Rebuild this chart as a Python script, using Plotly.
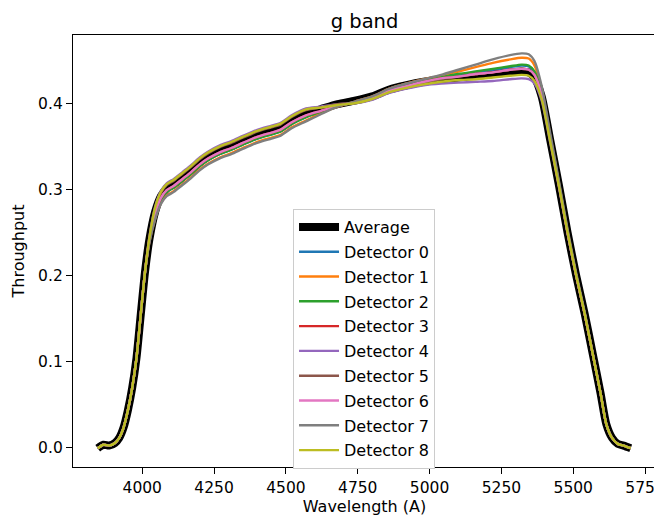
import plotly.graph_objects as go

# wavelength grid (Angstrom)
wavelength = [3845, 3865, 3885, 3905, 3920, 3935, 3950, 3965, 3980, 3995, 4010, 4025,
              4045, 4065, 4085, 4110, 4140, 4170, 4200, 4230, 4270, 4310, 4350, 4400,
              4450, 4480, 4520, 4570, 4620, 4680, 4740, 4800, 4860, 4920, 4980, 5040,
              5100, 5160, 5220, 5280, 5320, 5345, 5365, 5390, 5420, 5450, 5480, 5510,
              5540, 5570, 5595, 5615, 5635, 5655, 5675, 5700]

average = [-0.001, 0.003, 0.002, 0.005, 0.011, 0.023, 0.043, 0.069, 0.104, 0.155, 0.205, 0.242,
           0.274, 0.292, 0.301, 0.306, 0.314, 0.322, 0.331, 0.338, 0.345, 0.350, 0.356, 0.363,
           0.368, 0.371, 0.380, 0.388, 0.393, 0.399, 0.403, 0.408, 0.416, 0.421, 0.425, 0.428,
           0.430, 0.432, 0.434, 0.436, 0.437, 0.436, 0.430, 0.408, 0.357, 0.305, 0.250, 0.200,
           0.155, 0.105, 0.063, 0.027, 0.011, 0.004, 0.002, -0.001]

det0 = [-0.001, 0.003, 0.002, 0.005, 0.011, 0.023, 0.043, 0.069, 0.104, 0.155, 0.205, 0.241,
        0.270, 0.288, 0.297, 0.302, 0.310, 0.318, 0.327, 0.334, 0.341, 0.346, 0.352, 0.359,
        0.364, 0.367, 0.376, 0.384, 0.390, 0.397, 0.401, 0.407, 0.416, 0.422, 0.426, 0.430,
        0.433, 0.436, 0.439, 0.442, 0.444, 0.443, 0.436, 0.412, 0.359, 0.306, 0.250, 0.200,
        0.155, 0.105, 0.063, 0.027, 0.011, 0.004, 0.002, -0.001]

det1 = [-0.001, 0.003, 0.002, 0.005, 0.011, 0.023, 0.043, 0.069, 0.104, 0.155, 0.205, 0.239,
        0.266, 0.284, 0.293, 0.298, 0.306, 0.314, 0.323, 0.330, 0.337, 0.342, 0.348, 0.355,
        0.360, 0.363, 0.372, 0.380, 0.388, 0.396, 0.402, 0.408, 0.417, 0.423, 0.428, 0.432,
        0.437, 0.442, 0.447, 0.451, 0.453, 0.452, 0.444, 0.417, 0.362, 0.308, 0.252, 0.201,
        0.155, 0.105, 0.063, 0.027, 0.011, 0.004, 0.002, -0.001]

det2 = [-0.001, 0.003, 0.002, 0.005, 0.011, 0.023, 0.043, 0.069, 0.104, 0.155, 0.205, 0.240,
        0.270, 0.288, 0.297, 0.302, 0.310, 0.318, 0.327, 0.334, 0.341, 0.346, 0.352, 0.359,
        0.364, 0.367, 0.376, 0.384, 0.390, 0.397, 0.401, 0.407, 0.416, 0.422, 0.426, 0.430,
        0.434, 0.437, 0.440, 0.443, 0.445, 0.444, 0.437, 0.413, 0.360, 0.307, 0.251, 0.200,
        0.155, 0.105, 0.063, 0.027, 0.011, 0.004, 0.002, -0.001]

det3 = [-0.001, 0.003, 0.002, 0.005, 0.011, 0.023, 0.043, 0.069, 0.104, 0.155, 0.205, 0.241,
        0.272, 0.290, 0.299, 0.304, 0.312, 0.320, 0.329, 0.336, 0.343, 0.348, 0.354, 0.361,
        0.366, 0.369, 0.378, 0.386, 0.391, 0.397, 0.401, 0.406, 0.415, 0.420, 0.425, 0.429,
        0.431, 0.434, 0.436, 0.439, 0.440, 0.439, 0.433, 0.410, 0.358, 0.305, 0.250, 0.200,
        0.155, 0.105, 0.063, 0.027, 0.011, 0.004, 0.002, -0.001]

det4 = [-0.001, 0.003, 0.002, 0.005, 0.011, 0.023, 0.043, 0.069, 0.104, 0.155, 0.205, 0.245,
        0.280, 0.298, 0.307, 0.312, 0.320, 0.328, 0.337, 0.344, 0.351, 0.356, 0.362, 0.369,
        0.374, 0.377, 0.386, 0.394, 0.396, 0.399, 0.400, 0.404, 0.412, 0.417, 0.421, 0.423,
        0.424, 0.425, 0.426, 0.428, 0.429, 0.428, 0.423, 0.403, 0.354, 0.303, 0.249, 0.200,
        0.155, 0.105, 0.063, 0.027, 0.011, 0.004, 0.002, -0.001]

det5 = [-0.001, 0.003, 0.002, 0.005, 0.011, 0.023, 0.043, 0.069, 0.104, 0.155, 0.205, 0.244,
        0.278, 0.296, 0.305, 0.310, 0.318, 0.326, 0.335, 0.342, 0.349, 0.354, 0.360, 0.367,
        0.372, 0.375, 0.384, 0.392, 0.395, 0.399, 0.401, 0.406, 0.414, 0.420, 0.424, 0.428,
        0.431, 0.434, 0.436, 0.439, 0.440, 0.439, 0.433, 0.410, 0.358, 0.305, 0.250, 0.200,
        0.155, 0.105, 0.063, 0.027, 0.011, 0.004, 0.002, -0.001]

det6 = [-0.001, 0.003, 0.002, 0.005, 0.011, 0.023, 0.043, 0.069, 0.104, 0.155, 0.205, 0.241,
        0.272, 0.290, 0.299, 0.304, 0.312, 0.320, 0.329, 0.336, 0.343, 0.348, 0.354, 0.361,
        0.366, 0.369, 0.378, 0.386, 0.391, 0.397, 0.401, 0.406, 0.415, 0.420, 0.425, 0.429,
        0.431, 0.434, 0.436, 0.439, 0.440, 0.439, 0.433, 0.410, 0.358, 0.305, 0.250, 0.200,
        0.155, 0.105, 0.063, 0.027, 0.011, 0.004, 0.002, -0.001]

det7 = [-0.001, 0.003, 0.002, 0.005, 0.011, 0.023, 0.043, 0.069, 0.104, 0.155, 0.205, 0.238,
        0.265, 0.283, 0.292, 0.297, 0.305, 0.313, 0.322, 0.329, 0.336, 0.341, 0.347, 0.354,
        0.359, 0.362, 0.371, 0.379, 0.387, 0.396, 0.402, 0.408, 0.417, 0.423, 0.428, 0.433,
        0.439, 0.445, 0.451, 0.456, 0.458, 0.457, 0.449, 0.420, 0.365, 0.310, 0.254, 0.203,
        0.157, 0.105, 0.063, 0.027, 0.011, 0.004, 0.002, -0.001]

det8 = [-0.001, 0.003, 0.002, 0.005, 0.011, 0.023, 0.043, 0.069, 0.104, 0.155, 0.205, 0.244,
        0.279, 0.297, 0.306, 0.311, 0.319, 0.327, 0.336, 0.343, 0.350, 0.355, 0.361, 0.368,
        0.373, 0.376, 0.385, 0.393, 0.395, 0.398, 0.400, 0.405, 0.413, 0.418, 0.422, 0.425,
        0.427, 0.428, 0.430, 0.432, 0.433, 0.432, 0.426, 0.405, 0.355, 0.304, 0.250, 0.200,
        0.155, 0.105, 0.063, 0.027, 0.011, 0.004, 0.002, -0.001]

detectors = [det0, det1, det2, det3, det4, det5, det6, det7, det8]
colors = ['#1f77b4', '#ff7f0e', '#2ca02c', '#d62728', '#9467bd',
          '#8c564b', '#e377c2', '#7f7f7f', '#bcbd22']

fig = go.Figure()

fig.add_trace(go.Scatter(
    x=wavelength, y=average, mode='lines', name='Average',
    line=dict(color='black', width=8, shape='spline', smoothing=0.7),
    legendgroup='avg',
))

for i, (vals, col) in enumerate(zip(detectors, colors)):
    fig.add_trace(go.Scatter(
        x=wavelength, y=vals, mode='lines', name=f'Detector {i}',
        line=dict(color=col, width=2.4, shape='spline', smoothing=0.7),
        legendgroup=f'd{i}',
    ))

axis_style = dict(
    showline=True, linecolor='black', linewidth=1.3, mirror=True,
    ticks='outside', ticklen=6, tickwidth=1.3, tickcolor='black',
    showgrid=False, zeroline=False, automargin=False,
    tickfont=dict(size=15.5, color='black'),
    ticklabeloverflow='allow',
)

# page body adds an 8px offset, so the figure is 8px smaller than the window
fig.update_layout(
    width=654, height=510,
    margin=dict(l=65, r=6, t=27, b=51, pad=0),
    paper_bgcolor='white', plot_bgcolor='white',
    font=dict(family='DejaVu Sans', size=16, color='black'),
    title=dict(text='g band', x=0.5, xref='paper', xanchor='center',
               y=1 - 13 / 510, yref='container', yanchor='middle',
               font=dict(size=19.5, color='black')),
    xaxis=dict(range=[3759, 5788], tickvals=[4000, 4250, 4500, 4750, 5000, 5250, 5500, 5750],
               title=dict(text='Wavelength (A)', standoff=4, font=dict(size=16)), **axis_style),
    yaxis=dict(range=[-0.0229, 0.4794], tickvals=[0.0, 0.1, 0.2, 0.3, 0.4],
               tickformat='.1f',
               title=dict(text='Throughput', standoff=9, font=dict(size=16)), **axis_style),
    legend=dict(x=0.3774, y=0.5972, xanchor='left', yanchor='top',
                bgcolor='white', bordercolor='#cccccc', borderwidth=1,
                font=dict(size=16, color='black'), tracegroupgap=1,
                itemwidth=40),
    showlegend=True,
)

fig.write_html("out.html")
